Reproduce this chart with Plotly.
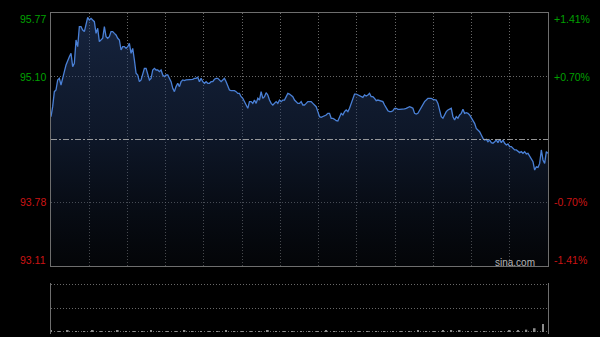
import plotly.graph_objects as go

# ---- data ----
prices_part1 = [
    94.680, 94.785, 94.943, 94.960, 95.066, 95.083, 95.013, 95.101, 95.153, 95.223,
    95.276, 95.311, 95.346, 95.206, 95.241, 95.486, 95.416, 95.626, 95.626, 95.591,
    95.574, 95.661, 95.724, 95.696, 95.714, 95.696, 95.679, 95.556, 95.609, 95.469,
    95.486, 95.504, 95.626, 95.521, 95.504, 95.521, 95.574, 95.574, 95.556, 95.539,
    95.504, 95.486, 95.381, 95.416, 95.416, 95.398, 95.416, 95.451, 95.346, 95.398,
    95.276, 95.136, 95.118, 95.048, 95.066, 95.136, 95.188, 95.188, 95.136, 95.066,
    95.083, 95.171, 95.188, 95.171, 95.171, 95.153, 95.171, 95.118, 95.101, 95.118,
    95.118, 95.083, 95.048, 94.978, 94.943,
]
prices_part2 = [
    94.996, 95.031, 94.996, 95.048, 95.066, 95.059, 95.066, 95.066, 95.066, 95.066,
    95.073, 95.083, 95.083, 95.094, 95.048, 95.083, 95.048, 95.031, 95.048, 95.031,
    95.031, 95.048, 95.048, 95.073, 95.083, 95.083, 95.066, 95.048, 95.066, 95.083,
    95.048, 94.996, 94.960, 94.953, 94.953, 94.953, 94.943, 94.925, 94.925, 94.890,
    94.873, 94.838, 94.820, 94.768, 94.838, 94.838, 94.820, 94.855, 94.820, 94.873,
    94.855, 94.943, 94.873, 94.890, 94.932, 94.908, 94.855, 94.820, 94.803, 94.820,
    94.838, 94.820, 94.855, 94.838, 94.855, 94.855, 94.890, 94.925, 94.918, 94.908,
    94.890, 94.855, 94.838, 94.820, 94.820,
]
prices_part3 = [
    94.838, 94.803, 94.803, 94.820, 94.838, 94.838, 94.838, 94.820, 94.803, 94.785,
    94.733, 94.680, 94.673, 94.680, 94.687, 94.698, 94.715, 94.715, 94.663, 94.663,
    94.652, 94.638, 94.635, 94.680, 94.715, 94.698, 94.733, 94.750, 94.733, 94.768,
    94.820, 94.855, 94.918, 94.918, 94.908, 94.897, 94.890, 94.883, 94.908, 94.897,
    94.908, 94.925, 94.890, 94.890, 94.873, 94.848, 94.855, 94.848, 94.838, 94.838,
    94.803, 94.768, 94.743, 94.733, 94.733, 94.743, 94.768, 94.768, 94.757, 94.757,
    94.757, 94.757, 94.761, 94.768, 94.778, 94.785, 94.778, 94.768, 94.715, 94.708,
    94.715, 94.750, 94.785, 94.820, 94.838,
]
prices_part4 = [
    94.855, 94.873, 94.873, 94.873, 94.862, 94.855, 94.855, 94.820, 94.750, 94.680,
    94.663, 94.698, 94.733, 94.750, 94.757, 94.768, 94.680, 94.645, 94.680, 94.663,
    94.698, 94.715, 94.757, 94.715, 94.722, 94.715, 94.698, 94.673, 94.638, 94.610,
    94.557, 94.540, 94.522, 94.487, 94.452, 94.435, 94.442, 94.417, 94.435, 94.407,
    94.400, 94.417, 94.435, 94.407, 94.442, 94.407, 94.435, 94.400, 94.382, 94.393,
    94.365, 94.365, 94.347, 94.330, 94.330, 94.312, 94.302, 94.312, 94.295, 94.312,
    94.288, 94.295, 94.260, 94.242, 94.207, 94.119, 94.154, 94.147, 94.189, 94.330,
    94.225, 94.189, 94.312, 94.295,
]
volumes = [
    3, 2, 3, 2, 2, 3, 2, 2, 3, 2,
    2, 2, 3, 2, 2, 2, 3, 2, 2, 2,
    2, 3, 2, 2, 2, 2, 3, 2, 2, 2,
    2, 2, 2, 3, 2, 2, 2, 2, 2, 2,
    2, 2, 2, 2, 3, 2, 2, 3, 4, 3,
    2, 2, 2, 2, 2, 3, 3, 5, 8, 17,
]
prev_close = 94.44
price_low, price_high = 93.11, 95.77
price_ticks = [95.77, 95.10, 93.78, 93.11]
price_labels = ["95.77", "95.10", "93.78", "93.11"]
pct_labels = ["+1.41%", "+0.70%", "-0.70%", "-1.41%"]
session_minutes = 390
grid_minutes = [30, 60, 90, 120, 150, 180, 210, 240, 270, 300, 330, 360]
volume_max = 100

prices = prices_part1 + prices_part2 + prices_part3 + prices_part4
n = len(prices)
minutes = [i * session_minutes / (n - 1) for i in range(n)]
vol_minutes = minutes[::5][:len(volumes)]

GREEN = "#00a000"
RED = "#cc1414"
label_colors = [GREEN, GREEN, RED, RED]
GRID = "rgba(160,160,160,0.65)"
BORDER = "#6e6e6e"
FONT = "Liberation Sans, Arial, sans-serif"

fig = go.Figure()
fig.add_trace(go.Scatter(
    x=minutes, y=prices, mode="lines",
    line=dict(color="#4a80d6", width=1.3),
    fill="tozeroy",
    fillgradient=dict(type="vertical",
                      colorscale=[[0, "rgba(10,14,22,0.35)"],
                                  [0.5, "rgba(30,50,88,0.45)"],
                                  [1, "rgba(44,72,125,0.5)"]],
                      start=price_low, stop=price_high),
    xaxis="x", yaxis="y", hoverinfo="skip",
))
fig.add_trace(go.Bar(
    x=vol_minutes, y=volumes, marker=dict(color="#8c8c8c", line=dict(width=0)),
    width=1.4, xaxis="x2", yaxis="y2", hoverinfo="skip",
))

fig.add_shape(type="line", xref="paper", x0=0, x1=1, yref="y",
              y0=prev_close, y1=prev_close,
              line=dict(color="rgba(175,175,175,0.85)", width=1, dash="6px,2px,2px,2px"))

annotations = []
for i, (v, lab, pct, col) in enumerate(zip(price_ticks, price_labels, pct_labels, label_colors)):
    ys = -6 if i == 0 else (6 if i == len(price_ticks) - 1 else 0)
    annotations.append(dict(xref="paper", x=0, yref="y", y=v, text=lab, showarrow=False,
                            xanchor="right", yanchor="middle", xshift=-3, yshift=ys,
                            font=dict(family=FONT, size=10.5, color=col)))
    annotations.append(dict(xref="paper", x=1, yref="y", y=v, text=pct, showarrow=False,
                            xanchor="left", yanchor="middle", xshift=4, yshift=ys,
                            font=dict(family=FONT, size=10.5, color=col)))
annotations.append(dict(xref="paper", x=0.978, yref="y", y=price_low, text="sina.com",
                        showarrow=False, xanchor="right", yanchor="middle", yshift=4,
                        font=dict(family=FONT, size=10, color="#b4b4b4")))

fig.update_layout(
    width=600, height=337,
    margin=dict(l=51, r=52, t=13, b=3),
    paper_bgcolor="black", plot_bgcolor="black",
    showlegend=False,
    annotations=annotations,
    xaxis=dict(domain=[0, 1], range=[0, session_minutes], anchor="y",
               tickvals=grid_minutes, showticklabels=False, ticks="",
               showgrid=True, gridcolor=GRID, griddash="1px,2px", gridwidth=1,
               showline=True, mirror=True, linecolor=BORDER, linewidth=1, zeroline=False),
    yaxis=dict(domain=[0.2118, 1], range=[price_low, price_high], anchor="x",
               tickvals=[95.10, 93.78], showticklabels=False, ticks="",
               showgrid=True, gridcolor=GRID, griddash="1px,2px", gridwidth=1,
               showline=True, mirror=True, linecolor=BORDER, linewidth=1, zeroline=False),
    xaxis2=dict(domain=[0, 1], range=[0, session_minutes], anchor="y2",
                showticklabels=False, ticks="", showgrid=False, showline=False, zeroline=False),
    yaxis2=dict(domain=[0, 0.1589], range=[-4.26, volume_max + 4.26], anchor="x2",
                tickvals=[0, volume_max / 2, volume_max], showticklabels=False, ticks="",
                showgrid=True, gridcolor=GRID, griddash="1px,2px", gridwidth=1,
                showline=True, mirror=True, linecolor=BORDER, linewidth=1, zeroline=False),
)

fig.write_html("out.html")
